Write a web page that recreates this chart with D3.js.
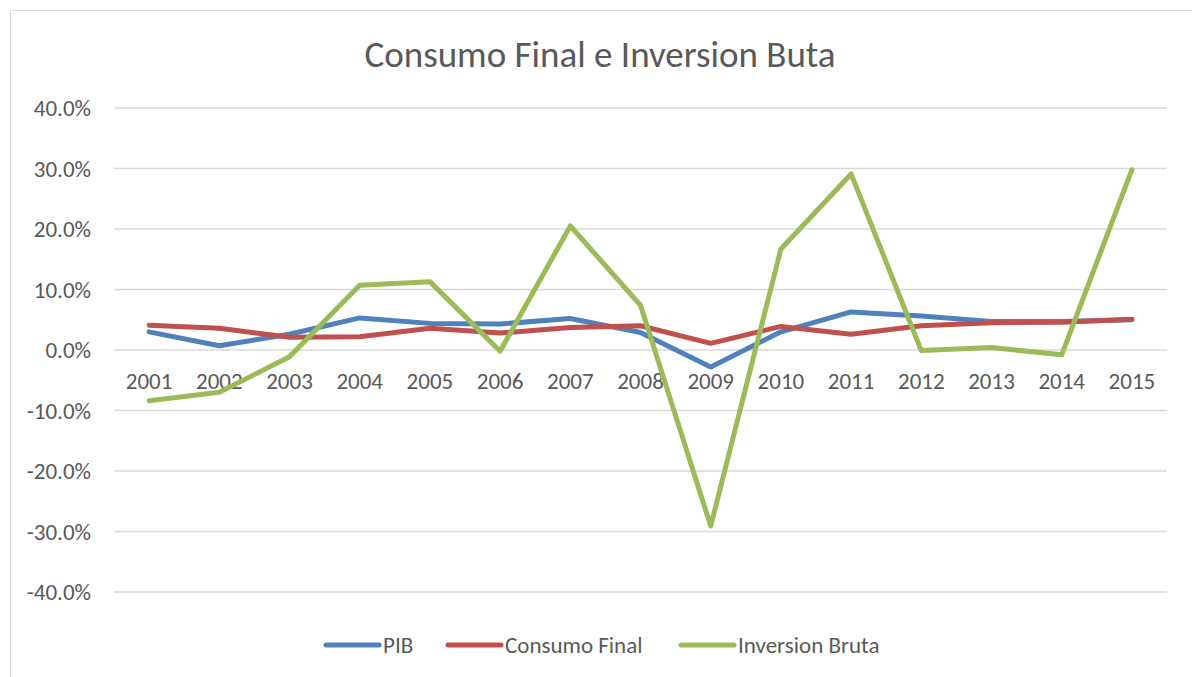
<!DOCTYPE html>
<html>
<head>
<meta charset="utf-8">
<script src="https://cdn.jsdelivr.net/npm/d3@7"></script>
<style>
  body { margin: 0; background: #fff; }
  text { font-family: Calibri, Carlito, Lato, sans-serif; fill: #595959; }
</style>
</head>
<body>
<div id="chart"></div>
<script>
// Data (growth rates, fractions)
const years = ['2001','2002','2003','2004','2005','2006','2007','2008','2009','2010','2011','2012','2013','2014','2015'];
const pib       = [0.030, 0.007, 0.026, 0.053, 0.044, 0.043, 0.052, 0.029, -0.028, 0.030, 0.063, 0.056, 0.047, 0.047, 0.050];
const consumo   = [0.041, 0.036, 0.021, 0.022, 0.036, 0.028, 0.037, 0.040, 0.011, 0.039, 0.026, 0.040, 0.045, 0.046, 0.051];
const inversion = [-0.084, -0.070, -0.011, 0.107, 0.113, -0.002, 0.205, 0.074, -0.291, 0.167, 0.291, -0.001, 0.004, -0.008, 0.298];
const yTicks = [-0.4, -0.3, -0.2, -0.1, 0, 0.1, 0.2, 0.3, 0.4];
const seriesNames = ['PIB', 'Consumo Final', 'Inversion Bruta'];
const seriesColors = ['#4F81BD', '#C0504D', '#9BBB59'];

const width = 1192, height = 677;

const svg = d3.select('#chart')
  .append('svg')
  .attr('width', width)
  .attr('height', height);

// chart area border
svg.append('rect')
  .attr('x', 10.5).attr('y', 10.5)
  .attr('width', 1200).attr('height', 700)
  .attr('fill', 'none')
  .attr('stroke', '#d9d9d9');

// Scales
const xScale = d3.scaleBand()
  .domain(years)
  .range([114, 1167]);

const yScale = d3.scaleLinear()
  .domain([-0.4, 0.4])
  .range([592, 108]);

// Gridlines
svg.append('g')
  .selectAll('line')
  .data(yTicks)
  .enter()
  .append('line')
  .attr('x1', 114).attr('x2', 1167)
  .attr('y1', d => yScale(d)).attr('y2', d => yScale(d))
  .attr('stroke', '#d9d9d9')
  .attr('stroke-width', 1.3);

// Y axis labels
const fmt = d => d3.format('.1%')(d).replace('\u2212', '-');
svg.append('g')
  .selectAll('text')
  .data(yTicks)
  .enter()
  .append('text')
  .attr('x', 91)
  .attr('y', d => yScale(d))
  .attr('dy', '0.35em')
  .attr('text-anchor', 'end')
  .style('font-size', '23px')
  .text(fmt);

// X axis labels (sit just under the zero line)
svg.append('g')
  .selectAll('text')
  .data(years)
  .enter()
  .append('text')
  .attr('x', d => xScale(d) + xScale.bandwidth() / 2)
  .attr('y', yScale(0) + 39)
  .attr('text-anchor', 'middle')
  .style('font-size', '23px')
  .text(d => d);

// Lines
const allSeries = [pib, consumo, inversion];
const line = d3.line()
  .x((d, i) => xScale(years[i]) + xScale.bandwidth() / 2)
  .y(d => yScale(d));

svg.append('g')
  .selectAll('path')
  .data(allSeries)
  .enter()
  .append('path')
  .attr('d', d => line(d))
  .attr('fill', 'none')
  .attr('stroke', (d, i) => seriesColors[i])
  .attr('stroke-width', 5)
  .attr('stroke-linecap', 'round')
  .attr('stroke-linejoin', 'round');

// Title
svg.append('text')
  .attr('x', 600)
  .attr('y', 67)
  .attr('text-anchor', 'middle')
  .style('font-size', '37px')
  .text('Consumo Final e Inversion Buta');

// Legend
const legendX = [324, 446, 679];
const legend = svg.append('g')
  .selectAll('g')
  .data(seriesNames)
  .enter()
  .append('g')
  .attr('transform', (d, i) => `translate(${legendX[i]},645)`);

legend.append('line')
  .attr('x1', 2).attr('x2', 55)
  .attr('y1', 0).attr('y2', 0)
  .attr('stroke', (d, i) => seriesColors[i])
  .attr('stroke-width', 5)
  .attr('stroke-linecap', 'round');

legend.append('text')
  .attr('x', 59)
  .attr('y', 0)
  .attr('dy', '0.35em')
  .style('font-size', '23px')
  .text(d => d);
</script>
</body>
</html>
